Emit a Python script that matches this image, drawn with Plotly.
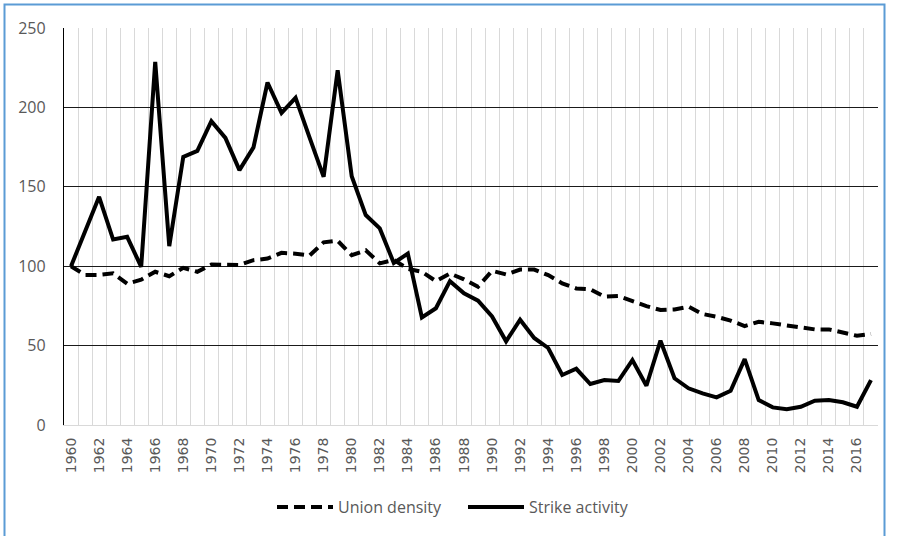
import plotly.graph_objects as go

years = list(range(1960, 2018))

union_density = [100, 94.5, 94.5, 95.5, 89, 91.5, 96.5, 93.7, 99, 96.5,
                 101, 100.8, 100.8, 103.8, 104.8, 108.4, 107.9, 106.7, 115, 116,
                 106.9, 110, 101.8, 104, 98.3, 96.5, 90.6, 95.4, 91.7, 87.1,
                 97.1, 94.8, 97.9, 97.9, 94.4, 89.2, 86, 85.5, 80.8, 81.2,
                 78, 74.9, 72.4, 72.8, 74.5, 69.9, 68.2, 65.7, 62.3, 65,
                 64, 62.9, 61.2, 60.2, 60.2, 58.1, 56.2, 57.3]

strike_activity = [100, 122, 143.7, 116.8, 118.5, 99.6, 228.7, 112.6, 168.9, 172.6,
                   191.3, 180.8, 160.5, 174.8, 215.7, 196.5, 206, 181, 156.3, 223.4,
                   156.7, 132.2, 123.8, 102, 107.9, 67.7, 73.5, 90.6, 82.9, 78.3,
                   68.3, 52.7, 66.3, 54.8, 48.5, 31.5, 35.4, 25.8, 28.3, 27.7,
                   40.9, 24.7, 53.1, 29.4, 23.1, 19.9, 17.4, 21.6, 41.5, 15.7,
                   11.1, 9.9, 11.5, 15.3, 15.7, 14.3, 11.5, 28.3]

tick_years = list(range(1960, 2017, 2))
tick_labels = [str(y) for y in tick_years]
y_ticks = [0, 50, 100, 150, 200, 250]

fig = go.Figure()
fig.add_trace(go.Scatter(x=years, y=union_density, mode="lines", name="Union density",
                         line=dict(color="black", width=4, dash="11px,6px")))
fig.add_trace(go.Scatter(x=years, y=strike_activity, mode="lines", name="Strike activity",
                         line=dict(color="black", width=4)))

W, H = 897, 536
ml, mr, mt, mb = 64, 19, 28, 111
pw, ph = W - ml - mr, H - mt - mb

def px(xp):
    return (xp - ml) / pw

def py(yp):
    return 1 - (yp - mt) / ph

fig.update_layout(
    width=W, height=H,
    margin=dict(l=ml, r=mr, t=mt, b=mb),
    paper_bgcolor="white", plot_bgcolor="white",
    showlegend=True,
    legend=dict(orientation="h", x=px(272), xanchor="left", y=py(507), yanchor="middle",
                font=dict(family="Open Sans", size=16, color="#595959"),
                itemwidth=56, entrywidth=120, entrywidthmode="pixels", traceorder="normal"),
    xaxis=dict(range=[1959.5, 2017.5], tickmode="array", tickvals=tick_years, ticktext=tick_labels,
               tickangle=-90, showgrid=False, zeroline=False,
               showline=True, linecolor="#d9d9d9", linewidth=1,
               ticks="outside", ticklen=6, tickcolor="rgba(0,0,0,0)",
               tickfont=dict(family="DejaVu Sans", size=14, color="#595959"),
               minor=dict(tick0=1959.5, dtick=1, showgrid=True, gridcolor="#d9d9d9", gridwidth=1.3)),
    yaxis=dict(range=[0, 250], tickmode="array", tickvals=y_ticks,
               showgrid=True, gridcolor="#1a1a1a", gridwidth=1.3, zeroline=False,
               showline=True, linecolor="black", linewidth=1.3,
               ticks="outside", ticklen=14, tickcolor="rgba(0,0,0,0)",
               tickfont=dict(family="Open Sans", size=16, color="#595959")),
    shapes=[dict(type="rect", xref="paper", yref="paper",
                 x0=px(4.5), x1=px(884.5), y0=py(540), y1=py(4.5),
                 line=dict(color="#5b9bd5", width=2), layer="above")],
)

fig.write_html("out.html", config={"displayModeBar": False},
               post_script="document.body.style.margin='0';document.body.style.overflow='hidden';")
